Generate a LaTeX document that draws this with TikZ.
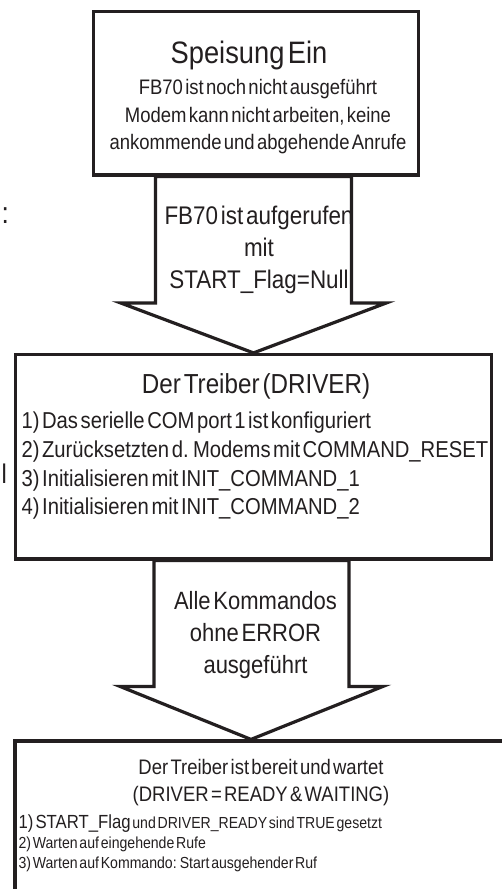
\documentclass[tikz,border=0pt]{standalone}
\usepackage{fontspec}
\setmainfont{Liberation Sans}[FakeStretch=0.88, WordSpace=0.45]
\usepackage{tikz}
\usetikzlibrary{calc}
\definecolor{ink}{HTML}{231F20}

\begin{document}
\begin{tikzpicture}[x=1pt, y=-1pt, line width=3.2pt, color=ink,
		box/.style = {draw, fill=white, inner sep=0pt},
		blockarrow/.style = {draw, fill=white, line join=miter},
		txt/.style = {inner sep=0pt, align=center, anchor=north},
		items/.style = {inner sep=0pt, align=left, anchor=north west}]
		\useasboundingbox (0,0) rectangle (502,889);
		\clip (0,0) rectangle (502,889);

		% the three states
		\node[box, minimum width=324.6pt, minimum height=163.3pt] (speisung) at (256,93.35) {};
		\node[box, minimum width=476pt, minimum height=204.5pt] (treiber) at (253.5,456.75) {};
		\node[box, minimum width=525pt, minimum height=189pt] (bereit) at (277.5,835.5) {};

		% block arrows between them
		\draw[blockarrow] (treiber.north) -- ++(-133,-50) -- ++(35,0) coordinate (s1a) -- (s1a |- speisung.south) -- ++(196,0) coordinate (s1b) -- (s1b |- s1a) -- ++(35,0) -- cycle;
		\coordinate (tip2) at ($(treiber.south |- bereit.north)+(-2.5,0)$);
		\draw[blockarrow] (tip2) -- ++(-131,-53) -- ++(34,0) coordinate (s2a) -- (s2a |- treiber.south) -- ++(195,0) coordinate (s2b) -- (s2b |- s2a) -- ++(34,0) -- cycle;

		\node[anchor=base, inner sep=0pt, font=\fontsize{31}{31}\selectfont] (speisungtitel) at (249,63) {Speisung Ein};
		\node[txt, font=\fontsize{21}{27.5}\selectfont] (speisungtext) at (258,77.7) {FB70 ist noch nicht ausgeführt\\Modem kann nicht arbeiten, keine\\ankommende und abgehende Anrufe};

		\begin{scope}
			\clip (s1a) rectangle ([xshift=-1.6pt]s1b);
			\node[txt, font=\fontsize{25.5}{32}\selectfont] (aufruf) at (259,204.4) {FB70 ist aufgerufen\\mit\\START\_Flag=Null};
		\end{scope}

		\node[anchor=base, inner sep=0pt, font=\fontsize{27.5}{27.5}\selectfont] (treibertitel) at (256,393) {Der Treiber (DRIVER)};
		\node[items, font=\fontsize{23}{28.7}\selectfont] (treiberliste) at (20,410.5) {1) Das serielle COM port 1 ist konfiguriert\\2) Zurücksetzten d. Modems mit COMMAND\_RESET\\3) Initialisieren mit INIT\_COMMAND\_1\\4) Initialisieren mit INIT\_COMMAND\_2};

		\node[txt, font=\fontsize{25}{31.7}\selectfont] (kommandos) at (255.5,590) {Alle Kommandos\\ohne ERROR\\ausgeführt};

		\node[txt, font=\fontsize{21}{27}\selectfont] (bereittitel) at (261,758) {Der Treiber ist bereit und wartet\\(DRIVER = READY \& WAITING)};
		\node[items, font=\fontsize{16}{20}\selectfont] (bereitliste) at (17,813.1) {{\fontsize{19}{20}\selectfont 1) START\_Flag} und DRIVER\_READY sind TRUE gesetzt\\2) Warten auf eingehende Rufe\\3) Warten auf Kommando: Start ausgehender Ruf};

		% remains of cut-off text at the left edge
		\node[anchor=base west, inner sep=0pt, font=\fontsize{30}{30}\selectfont] (rest1) at (0,223.5) {:};
		\node[anchor=base west, inner sep=0pt, font=\fontsize{27}{27}\selectfont] (rest2) at (0,483) {l};
\end{tikzpicture}
\end{document}
